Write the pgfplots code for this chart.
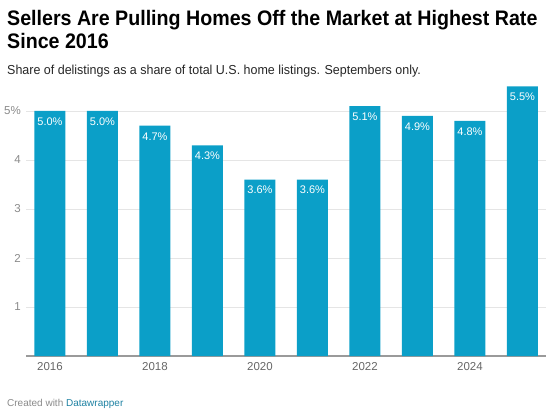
\documentclass[border=0pt]{standalone}
\usepackage{pgfplots}
\pgfplotsset{compat=1.18}
\usepackage{fontspec}
\setmainfont{Liberation Sans}
\definecolor{barc}{HTML}{0B9FC8}
\definecolor{gridc}{HTML}{E5E5E5}
\definecolor{tickc}{HTML}{8A8A8A}
\definecolor{xlabc}{HTML}{666666}
\definecolor{axc}{HTML}{9A9A9A}
\definecolor{dwblue}{HTML}{1D81A2}
\begin{document}
\begin{tikzpicture}
\path[use as bounding box] (0,0) rectangle (553bp,412bp);
\begin{axis}[
  at={(26bp,56bp)}, anchor=south west,
  scale only axis, width=520bp, height=269.5bp,
  xmin=-0.457, xmax=9.448, ymin=0, ymax=5.5,
  clip=false,
  axis x line*=bottom, axis y line*=left,
  x axis line style={draw=axc, line width=1.5bp, -},
  y axis line style={draw=none},
  xtick={0,2,4,6,8}, xticklabels={2016,2018,2020,2022,2024},
  major tick length=0pt,
  xticklabel style={font=\fontsize{11.5bp}{13bp}\selectfont, text=xlabc, anchor=north, yshift=-3bp},
  ytick={1,2,3,4,5}, yticklabels={1,2,3,4,5\%},
  yticklabel style={font=\fontsize{11.5bp}{13bp}\selectfont, text=tickc, anchor=east, inner sep=0pt, xshift=-5bp},
  ymajorgrids, grid style={draw=gridc, line width=0.8bp},
  ybar, bar width=31bp,
  /pgf/number format/assume math mode=true,
  nodes near coords={\pgfmathprintnumber[fixed,fixed zerofill,precision=1]{\pgfplotspointmeta}\%},
  every node near coord/.append style={anchor=north, inner sep=0pt, yshift=-6.5bp, text=white, font=\fontsize{11bp}{13bp}\selectfont},
]
\addplot[fill=barc, draw=none] coordinates {
(0,5.0) (1,5.0) (2,4.7) (3,4.3) (4,3.6) (5,3.6) (6,5.1) (7,4.9) (8,4.8) (9,5.5)};
\end{axis}
\node[anchor=base west, inner sep=0pt, font=\fontsize{21bp}{23bp}\selectfont\bfseries] at (7bp,386bp) {\scalebox{0.935}[1]{Sellers Are Pulling Homes Off the Market at Highest Rate}};
\node[anchor=base west, inner sep=0pt, font=\fontsize{21bp}{23bp}\selectfont\bfseries] at (7bp,363.3bp) {\scalebox{0.935}[1]{Since 2016}};
\node[anchor=base west, inner sep=0pt, font=\fontsize{13bp}{15bp}\selectfont, text=black!85] at (7bp,337bp) {\scalebox{0.96}[1]{Share of delistings as a share of total U.S. home listings. Septembers only.}};
\node[anchor=base west, inner sep=0pt, font=\fontsize{10bp}{12bp}\selectfont] at (7bp,6bp) {\textcolor{tickc}{Created with} \textcolor{dwblue}{Datawrapper}};
\end{tikzpicture}
\end{document}
